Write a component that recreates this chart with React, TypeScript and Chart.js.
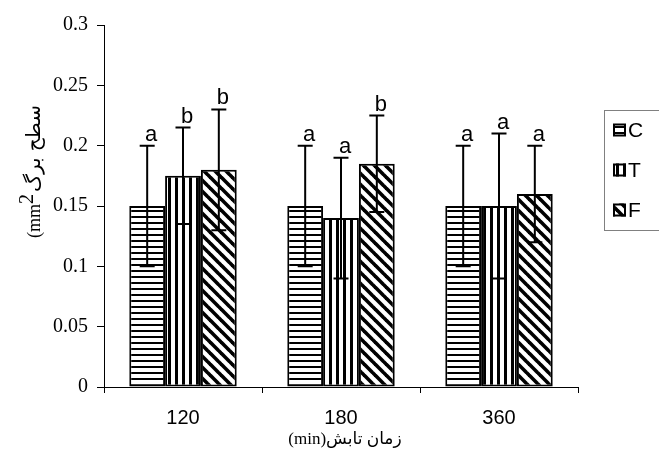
import React, { useEffect, useRef } from "react";
import { Chart, registerables } from "chart.js";

Chart.register(...registerables);

// Irradiation time groups (min)
const categories = ["120", "180", "360"];
const seriesNames = ["C", "T", "F"];

// Mean leaf area (mm2) per treatment
const valuesC = [0.15, 0.15, 0.15];
const valuesT = [0.175, 0.14, 0.15];
const valuesF = [0.18, 0.185, 0.16];

// Standard deviation shown as error bars
const errorsC = [0.05, 0.05, 0.05];
const errorsT = [0.04, 0.05, 0.06];
const errorsF = [0.05, 0.04, 0.04];

// Significance letters above each error bar
const lettersC = ["a", "a", "a"];
const lettersT = ["b", "a", "a"];
const lettersF = ["b", "b", "a"];

const yTicks = [0, 0.05, 0.1, 0.15, 0.2, 0.25, 0.3];

const xTitle = "(min)زمان تابش";
const yTitleUnit = "(mm";
const yTitleSup = "2";
const yTitleText = "سطح برگ";

const allValues = [valuesC, valuesT, valuesF];
const allErrors = [errorsC, errorsT, errorsF];
const allLetters = [lettersC, lettersT, lettersF];
const patternKinds = ["h", "v", "d"];

function makePattern(kind: string): CanvasPattern | string {
  const c = document.createElement("canvas");
  const ctx = c.getContext("2d");
  if (!ctx) return "#fff";
  if (kind === "h") {
    c.width = 6;
    c.height = 6;
    ctx.fillStyle = "#fff";
    ctx.fillRect(0, 0, 6, 6);
    ctx.fillStyle = "#000";
    ctx.fillRect(0, 0, 6, 2);
  } else if (kind === "v") {
    c.width = 7;
    c.height = 7;
    ctx.fillStyle = "#fff";
    ctx.fillRect(0, 0, 7, 7);
    ctx.fillStyle = "#000";
    ctx.fillRect(0, 0, 3, 7);
  } else {
    const s = 11;
    c.width = s;
    c.height = s;
    ctx.fillStyle = "#fff";
    ctx.fillRect(0, 0, s, s);
    ctx.strokeStyle = "#000";
    ctx.lineWidth = 3.6;
    for (const x0 of [-s, 0, s]) {
      ctx.beginPath();
      ctx.moveTo(x0 - 1, -1);
      ctx.lineTo(x0 + s + 1, s + 1);
      ctx.stroke();
    }
  }
  return ctx.createPattern(c, "repeat") || "#fff";
}

const errorBarPlugin = {
  id: "errorBars",
  afterDatasetsDraw(chart: any) {
    const ctx = chart.ctx;
    const yScale = chart.scales.y;
    ctx.save();
    chart.data.datasets.forEach((ds: any, i: number) => {
      const meta = chart.getDatasetMeta(i);
      meta.data.forEach((bar: any, j: number) => {
        const v = allValues[i][j];
        const e = allErrors[i][j];
        const x = bar.x;
        const yTop = yScale.getPixelForValue(v + e);
        const yBot = yScale.getPixelForValue(v - e);
        ctx.strokeStyle = "#000";
        ctx.lineWidth = 2;
        ctx.beginPath();
        ctx.moveTo(x, yTop);
        ctx.lineTo(x, yBot);
        ctx.moveTo(x - 7.5, yTop);
        ctx.lineTo(x + 7.5, yTop);
        ctx.moveTo(x - 7.5, yBot);
        ctx.lineTo(x + 7.5, yBot);
        ctx.stroke();
        ctx.fillStyle = "#000";
        ctx.font = "22px 'Liberation Sans', Arial, sans-serif";
        ctx.textAlign = "center";
        ctx.textBaseline = "alphabetic";
        ctx.fillText(allLetters[i][j], x + 4, yTop - 5);
      });
    });
    ctx.restore();
  },
};

const legendAndTitlesPlugin = {
  id: "legendAndTitles",
  afterDraw(chart: any) {
    const ctx = chart.ctx;
    const area = chart.chartArea;
    ctx.save();

    // legend frame
    ctx.strokeStyle = "#808080";
    ctx.lineWidth = 1;
    ctx.strokeRect(604.5, 110.5, 120, 120);

    chart.data.datasets.forEach((ds: any, i: number) => {
      const cy = 130 + i * 40;
      ctx.fillStyle = ds.backgroundColor;
      ctx.fillRect(613, cy - 6.5, 13, 13);
      ctx.strokeStyle = "#000";
      ctx.lineWidth = 2;
      ctx.strokeRect(614, cy - 5.5, 11, 11);
      ctx.fillStyle = "#000";
      ctx.font = "21px 'Liberation Sans', Arial, sans-serif";
      ctx.textAlign = "left";
      ctx.textBaseline = "middle";
      ctx.fillText(ds.label, 628, cy + 1);
    });

    // x axis title
    ctx.fillStyle = "#000";
    ctx.textAlign = "center";
    ctx.textBaseline = "middle";
    ctx.font = "17px 'Liberation Serif', 'DejaVu Sans', serif";
    ctx.fillText(xTitle, (area.left + area.right) / 2 + 4, 440);

    // y axis title, rotated
    ctx.translate(40, 238);
    ctx.rotate(-Math.PI / 2);
    ctx.textAlign = "left";
    ctx.textBaseline = "alphabetic";
    ctx.font = "18px 'Liberation Serif', serif";
    ctx.fillText(yTitleUnit, 0, 0);
    let w = ctx.measureText(yTitleUnit).width;
    ctx.font = "20px 'Liberation Serif', serif";
    ctx.fillText(yTitleSup, w, -7);
    w += ctx.measureText(yTitleSup).width + 2;
    ctx.font = "20px 'DejaVu Sans', sans-serif";
    ctx.fillText(yTitleText, w, 0);
    ctx.restore();
  },
};

export default function App() {
  const canvasRef = useRef<HTMLCanvasElement | null>(null);

  useEffect(() => {
    const canvas = canvasRef.current;
    if (!canvas) return;
    const datasets = seriesNames.map((name, i) => ({
      label: name,
      data: allValues[i],
      backgroundColor: makePattern(patternKinds[i]) as any,
      borderColor: "#000",
      borderWidth: 2,
      borderSkipped: false as const,
      categoryPercentage: 0.68,
      barPercentage: 1.0,
    }));

    const chart = new Chart(canvas, {
      type: "bar",
      data: { labels: categories, datasets },
      options: {
        responsive: false,
        animation: false,
        devicePixelRatio: 1,
        layout: { padding: { top: 25, right: 81, left: 0, bottom: 0 } },
        plugins: {
          legend: { display: false },
          tooltip: { enabled: false },
          title: { display: false },
        },
        scales: {
          x: {
            type: "category",
            grid: {
              display: true,
              drawOnChartArea: false,
              drawTicks: true,
              tickLength: 6,
              color: "#000",
              offset: true,
            },
            border: { display: true, color: "#000", width: 1 },
            ticks: {
              color: "#000",
              font: { family: "'Liberation Sans', Arial, sans-serif", size: 20 },
              padding: 13,
              maxRotation: 0,
            },
            afterFit(scale: any) {
              scale.height = 65;
            },
          },
          y: {
            type: "linear",
            min: 0,
            max: 0.3,
            afterBuildTicks(scale: any) {
              scale.ticks = yTicks.map((v) => ({ value: v }));
            },
            grid: {
              display: true,
              drawOnChartArea: false,
              drawTicks: true,
              tickLength: 7,
              color: "#000",
            },
            border: { display: true, color: "#000", width: 1 },
            ticks: {
              color: "#000",
              font: { family: "'Liberation Serif', serif", size: 20 },
              padding: 9,
              callback: (v: any) => String(Number(Number(v).toFixed(2))),
            },
            afterFit(scale: any) {
              scale.width = 104;
            },
          },
        },
      },
      plugins: [errorBarPlugin, legendAndTitlesPlugin],
    });
    return () => chart.destroy();
  }, []);

  return (
    <div style={{ position: "absolute", left: 0, top: 0, width: 659, height: 452, background: "#fff" }}>
      <canvas ref={canvasRef} width={659} height={452} style={{ width: 659, height: 452, display: "block" }} />
    </div>
  );
}
